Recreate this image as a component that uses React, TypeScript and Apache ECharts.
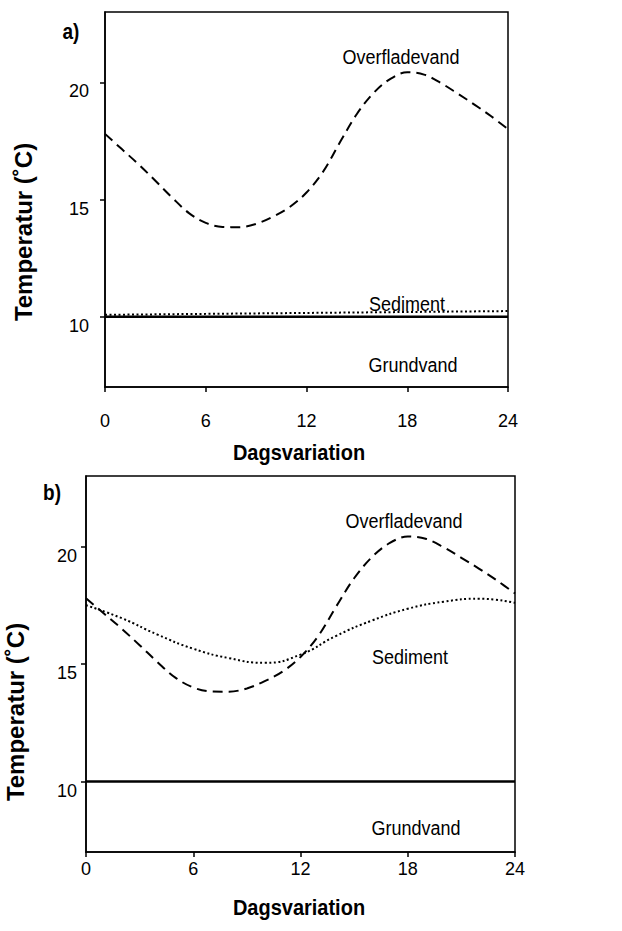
import React, { useEffect, useRef } from "react";
import * as echarts from "echarts";

// Hour of day
const hours = [0, 1, 2, 3, 4, 5, 6, 7, 8, 9, 10, 11, 12, 13, 14, 15, 16, 17, 18, 19, 20, 21, 22, 23, 24];

// Surface water temperature (°C), same in both panels
const overfladevand = [
  17.8, 17.15, 16.5, 15.8, 15.08, 14.42, 14.0, 13.83, 13.82, 13.96, 14.27, 14.68, 15.3,
  16.2, 17.45, 18.65, 19.55, 20.15, 20.43, 20.33, 19.97, 19.52, 19.05, 18.55, 18.0,
];

// Sediment temperature, panel a (every 6 hours)
const sedimentHoursA = [0, 6, 12, 18, 24];
const sedimentA = [10.08, 10.12, 10.16, 10.2, 10.24];

// Sediment temperature, panel b (every 2 hours)
const sedimentHoursB = [0, 2, 4, 6, 8, 10, 12, 14, 16, 18, 20, 22, 24];
const sedimentB = [17.5, 16.95, 16.25, 15.65, 15.25, 15.05, 15.4, 16.2, 16.85, 17.35, 17.65, 17.78, 17.6];

// Groundwater temperature
const grundvandHours = [0, 24];
const grundvand = [10, 10];

const xTicks = [0, 6, 12, 18, 24];
const yTicks = [10, 15, 20];

const FONT = "'Liberation Sans', Arial, sans-serif";

const pairs = (xs: number[], ys: number[]) => xs.map((x, i) => [x, ys[i]]);

export default function App() {
  const ref = useRef<HTMLDivElement>(null);

  useEffect(() => {
    if (!ref.current) return;
    const chart = echarts.init(ref.current, undefined, { renderer: "svg" });

    const grids = [
      { left: 105, top: 12, width: 403, height: 375 },
      { left: 86, top: 476, width: 429, height: 376 },
    ];
    const xLabelMargin = [25, 8];
    const yLabelMargin = [16, 9];

    const xAxis = grids.map((_, i) => ({
      type: "value",
      gridIndex: i,
      min: 0,
      max: 24,
      interval: 6,
      axisLine: { show: true, lineStyle: { color: "#000", width: 1.5 } },
      axisTick: { show: true, inside: false, length: 5, customValues: xTicks, lineStyle: { color: "#000", width: 1.5 } },
      axisLabel: { color: "#000", fontSize: 18, fontFamily: FONT, margin: xLabelMargin[i], customValues: xTicks },
      splitLine: { show: false },
    }));

    const yAxis = grids.map((_, i) => ({
      type: "value",
      gridIndex: i,
      min: 7,
      max: 23,
      axisLine: { show: true, lineStyle: { color: "#000", width: 1.5 } },
      axisTick: { show: true, length: 5, customValues: yTicks, lineStyle: { color: "#000", width: 1.5 } },
      axisLabel: {
        color: "#000",
        fontSize: 18,
        fontFamily: FONT,
        margin: yLabelMargin[i],
        verticalAlign: "top",
        customValues: yTicks,
      },
      splitLine: { show: false },
    }));

    const dashed = { color: "#000", width: 2, type: [10, 6] };
    const dotted = { color: "#000", width: 2, type: [2, 2.5] };
    const solid = { color: "#000", width: 2.5, type: "solid" };

    const mk = (name: string, idx: number, data: number[][], lineStyle: any, smooth: boolean | number) => ({
      name,
      type: "line",
      xAxisIndex: idx,
      yAxisIndex: idx,
      data,
      smooth,
      showSymbol: false,
      symbol: "none",
      lineStyle,
      silent: true,
    });

    const series = [
      mk("Overfladevand", 0, pairs(hours, overfladevand), dashed, 0.35),
      mk("Sediment", 0, pairs(sedimentHoursA, sedimentA), dotted, false),
      mk("Grundvand", 0, pairs(grundvandHours, grundvand), solid, false),
      mk("Overfladevand", 1, pairs(hours, overfladevand), dashed, 0.35),
      mk("Sediment", 1, pairs(sedimentHoursB, sedimentB), dotted, 0.5),
      mk("Grundvand", 1, pairs(grundvandHours, grundvand), solid, false),
    ];

    // Text with a slight vertical stretch; for rotated text the stretch runs along the text
    const txt = (text: string, x: number, y: number, size: number, bold = false, rotation = 0) => ({
      type: "text",
      x,
      y,
      rotation,
      scaleX: rotation ? 1 : 1,
      scaleY: rotation ? 1 : 1.12,
      silent: true,
      style: {
        text,
        fill: "#000",
        fontSize: size,
        fontWeight: bold ? "bold" : "normal",
        fontFamily: FONT,
        align: "center",
        verticalAlign: "middle",
      },
    });

    const graphic = [
      // panel a
      txt("a)", 71, 32, 19, true),
      txt("Overfladevand", 401, 57, 18),
      txt("Sediment", 407, 304, 18),
      txt("Grundvand", 413, 365, 18),
      txt("Dagsvariation", 299, 452, 20, true),
      txt("Temperatur (˚C)", 23, 232, 24, true, Math.PI / 2),
      // panel b
      txt("b)", 52, 493, 19, true),
      txt("Overfladevand", 404, 521, 18),
      txt("Sediment", 410, 657, 18),
      txt("Grundvand", 416, 828, 18),
      txt("Dagsvariation", 299, 907, 20, true),
      txt("Temperatur (˚C)", 15, 712, 24, true, Math.PI / 2),
    ];

    chart.setOption({
      animation: false,
      backgroundColor: "#fff",
      grid: grids.map((g) => ({ ...g, show: true, borderColor: "#000", borderWidth: 1.5, backgroundColor: "transparent" })),
      xAxis,
      yAxis,
      series,
      graphic,
    });

    return () => chart.dispose();
  }, []);

  return <div ref={ref} style={{ position: "absolute", left: 0, top: 0, width: 622, height: 931 }} />;
}
